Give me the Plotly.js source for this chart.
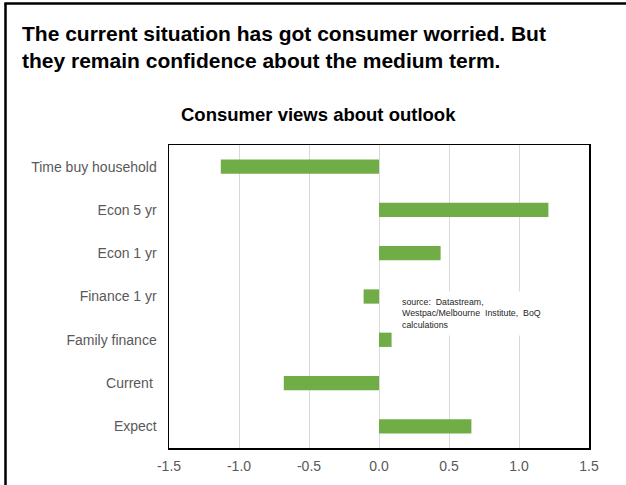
<!DOCTYPE html>
<html>
<head>
<meta charset="utf-8">
<script src="https://cdn.plot.ly/plotly-3.0.1.min.js"></script>
<style>
html,body{margin:0;padding:0;background:#fff;}
#chart{width:626px;height:485px;}
</style>
</head>
<body>
<div id="chart"></div>
<script>
var categories = ["Time buy household", "Econ 5 yr", "Econ 1 yr", "Finance 1 yr", "Family finance", "Current ", "Expect"];
var values = [-1.13, 1.21, 0.44, -0.11, 0.09, -0.68, 0.66];
var xTickVals = [-1.5, -1.0, -0.5, 0.0, 0.5, 1.0, 1.5];
var xTickText = ["-1.5", "-1.0", "-0.5", "0.0", "0.5", "1.0", "1.5"];
var headline = "The current situation has got consumer worried. But<br>they remain confidence about the medium term.";
var chartTitle = "Consumer views about outlook";
var sourceText = "source:  Datastream,<br>Westpac/Melbourne  Institute,  BoQ<br>calculations";

var L = 169, R = 589, T = 145, B = 448;
function px(x){ return (x - L) / (R - L); }
function py(y){ return (B - y) / (B - T); }

var trace = {
  type: "bar",
  orientation: "h",
  y: categories,
  x: values,
  width: 0.33,
  marker: {color: "#70AD47", line: {width: 0}},
  hoverinfo: "skip"
};

var layout = {
  width: 626,
  height: 485,
  paper_bgcolor: "#ffffff",
  plot_bgcolor: "#ffffff",
  margin: {l: L, r: 626 - R, t: T, b: 485 - B, pad: 0},
  showlegend: false,
  font: {family: "Liberation Sans, Arial, sans-serif", color: "#595959"},
  xaxis: {
    range: [-1.5, 1.5],
    tickvals: xTickVals,
    ticktext: xTickText,
    showgrid: true,
    gridcolor: "#d9d9d9",
    gridwidth: 1,
    zeroline: true,
    zerolinecolor: "#d9d9d9",
    zerolinewidth: 1,
    showline: true,
    linecolor: "#000000",
    linewidth: 1.5,
    mirror: true,
    ticks: "",
    ticklen: 0,
    ticklabelstandoff: 5,
    tickfont: {size: 14, color: "#595959"},
    fixedrange: true
  },
  yaxis: {
    type: "category",
    categoryorder: "array",
    categoryarray: categories,
    autorange: "reversed",
    showgrid: false,
    zeroline: false,
    showline: true,
    linecolor: "#000000",
    linewidth: 1.5,
    mirror: true,
    ticks: "",
    ticklabelstandoff: 8,
    tickfont: {size: 14, color: "#595959"},
    fixedrange: true
  },
  annotations: [
    {
      text: "<b>" + headline + "</b>",
      xref: "paper", yref: "paper",
      x: px(20), y: py(47),
      xanchor: "left", yanchor: "middle",
      align: "left",
      showarrow: false,
      font: {size: 21, color: "#000000", family: "Liberation Sans, Arial, sans-serif"}
    },
    {
      text: "<b>" + chartTitle + "</b>",
      xref: "paper", yref: "paper",
      x: px(318), y: py(114),
      xanchor: "center", yanchor: "middle",
      showarrow: false,
      font: {size: 18.5, color: "#000000", family: "Liberation Sans, Arial, sans-serif"}
    },
    {
      text: sourceText,
      xref: "paper", yref: "paper",
      x: px(396), y: py(313),
      xanchor: "left", yanchor: "middle",
      align: "left",
      width: 168,
      bgcolor: "#ffffff",
      borderpad: 5,
      showarrow: false,
      font: {size: 8.8, color: "#262626", family: "Liberation Sans, Arial, sans-serif"}
    }
  ],
  shapes: [
    {type: "line", xref: "paper", yref: "paper", x0: px(5.5), x1: px(5.5), y0: py(3.5), y1: py(495), line: {color: "#000000", width: 2.5}},
    {type: "line", xref: "paper", yref: "paper", x0: px(4.3), x1: px(640), y0: py(3.5), y1: py(3.5), line: {color: "#000000", width: 2.5}}
  ]
};

Plotly.newPlot("chart", [trace], layout, {displayModeBar: false, staticPlot: true});
</script>
</body>
</html>
